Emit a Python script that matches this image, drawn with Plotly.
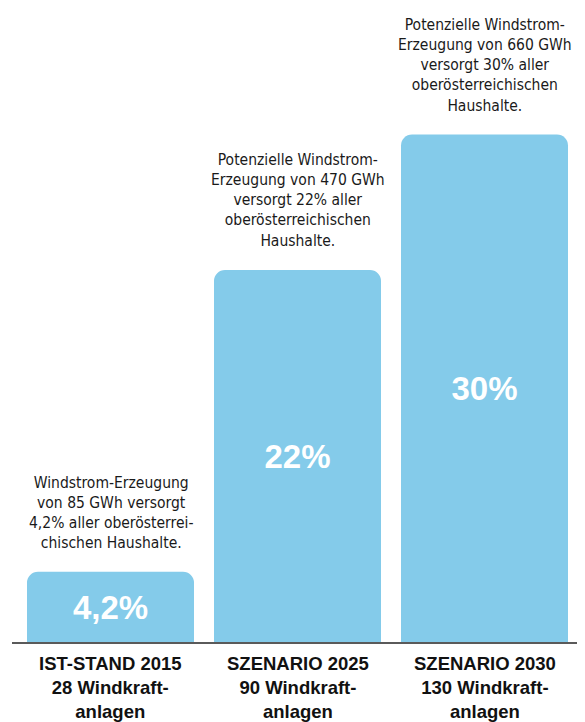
import plotly.graph_objects as go

categories = ["IST-STAND 2015<br>28 Windkraft-<br>anlagen",
              "SZENARIO 2025<br>90 Windkraft-<br>anlagen",
              "SZENARIO 2030<br>130 Windkraft-<br>anlagen"]
shares = [4.2, 22, 30]
share_labels = ["4,2%", "22%", "30%"]
notes = ["Windstrom-Erzeugung<br>von 85 GWh versorgt<br>4,2% aller oberösterrei-<br>chischen Haushalte.",
         "Potenzielle Windstrom-<br>Erzeugung von 470 GWh<br>versorgt 22% aller<br>oberösterreichischen<br>Haushalte.",
         "Potenzielle Windstrom-<br>Erzeugung von 660 GWh<br>versorgt 30% aller<br>oberösterreichischen<br>Haushalte."]

# page has an 8px body margin; the figure sits at (8, 8)
W, H = 577, 714
ML, MR, MT, MB = 9, 7, 0, 79
px_per_unit = 16.95
plot_h = H - MT - MB
xs = list(range(len(categories)))

narrow = "Liberation Sans Narrow, DejaVu Sans Condensed, Arial Narrow, sans-serif"
bold = "Liberation Sans, Arial, Helvetica, sans-serif"

fig = go.Figure()
fig.add_trace(go.Bar(
    x=xs, y=shares, width=0.893,
    marker=dict(color="#84cbea", cornerradius=11, line=dict(width=0)),
    text=share_labels, textposition="inside", insidetextanchor="middle",
    textfont=dict(family=bold, size=33, color="white", weight="bold"),
    textangle=0, hoverinfo="skip",
))

for x, v, n in zip(xs, shares, notes):
    fig.add_annotation(x=x, y=v, text=n, showarrow=False, yanchor="bottom",
                       yshift=18, align="center",
                       font=dict(family=narrow, size=15.5, color="#1a1a1a"))

for x, c in zip(xs, categories):
    fig.add_annotation(x=x, y=0, yref="paper", text="<b>" + c + "</b>", showarrow=False,
                       yanchor="top", yshift=-8, align="center",
                       font=dict(family=bold, size=18.5, color="#111111"))

fig.add_shape(type="line", xref="paper", yref="paper",
              x0=(4 - ML) / (W - ML - MR), x1=(W - ML) / (W - ML - MR), y0=0, y1=0,
              line=dict(color="#5a5a5a", width=2))

fig.update_layout(
    width=W, height=H, margin=dict(l=ML, r=MR, t=MT, b=MB),
    paper_bgcolor="white", plot_bgcolor="white", showlegend=False,
    xaxis=dict(range=[-0.5, 2.5], visible=False, fixedrange=True),
    yaxis=dict(range=[0, plot_h / px_per_unit], visible=False, fixedrange=True),
    uniformtext=dict(mode=False),
)
fig.write_html("out.html", config={"displayModeBar": False})
